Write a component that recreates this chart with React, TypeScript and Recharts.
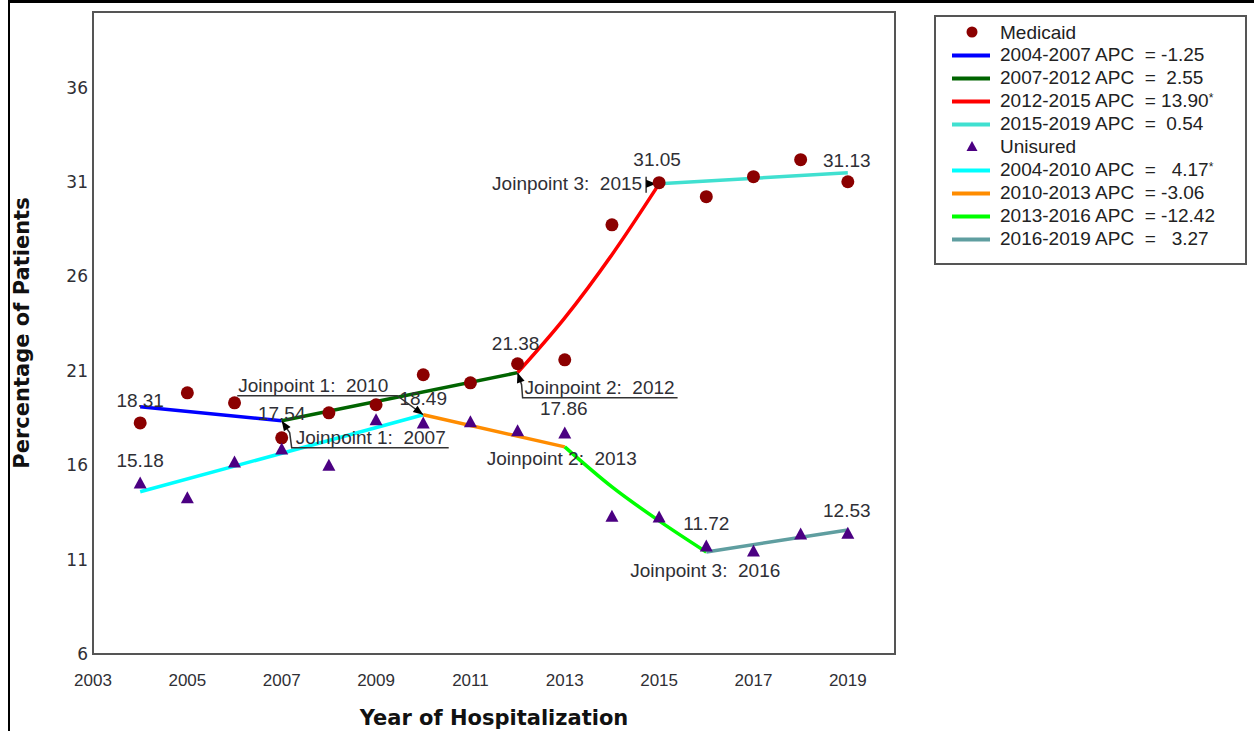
import React from 'react'
import { ComposedChart, Line, Scatter, XAxis, YAxis, ReferenceArea } from 'recharts'

// observed percentages, one per year
const years = [2004, 2005, 2006, 2007, 2008, 2009, 2010, 2011, 2012, 2013, 2014, 2015, 2016, 2017, 2018, 2019]
const medicaidObs = [18.24, 19.83, 19.3, 17.45, 18.77, 19.2, 20.79, 20.36, 21.37, 21.58, 28.73, 30.96, 30.22, 31.28, 32.18, 31.01]
const uninsuredObs = [15.06, 14.27, 16.17, 16.86, 16.0, 18.4, 18.24, 18.3, 17.82, 17.71, 13.3, 13.26, 11.72, 11.46, 12.36, 12.4]

// joinpoint fitted segments
const medicaidSegYears = [[2004, 2007], [2007, 2012], [2012, 2013, 2014, 2015], [2015, 2019]]
const medicaidSegValues = [[19.09, 18.35], [18.35, 20.9], [20.9, 23.8, 27.15, 30.9], [30.9, 31.49]]
const medicaidApc = ['2004-2007 APC  = -1.25', '2007-2012 APC  =  2.55', '2012-2015 APC  = 13.90', '2015-2019 APC  =  0.54']
const medicaidStar = [false, false, true, false]

const uninsuredSegYears = [[2004, 2010], [2010, 2013], [2013, 2014, 2015, 2016], [2016, 2019]]
const uninsuredSegValues = [[14.59, 18.67], [18.67, 16.97], [16.97, 14.85, 13.05, 11.4], [11.4, 12.57]]
const uninsuredApc = ['2004-2010 APC  =   4.17', '2010-2013 APC  = -3.06', '2013-2016 APC  = -12.42', '2016-2019 APC  =   3.27']
const uninsuredStar = [true, false, false, false]

const xTicks = [2003, 2005, 2007, 2009, 2011, 2013, 2015, 2017, 2019]
const yTicks = [6, 11, 16, 21, 26, 31, 36]

// value labels at segment ends
const valueYears = [2004, 2007, 2012, 2015, 2019, 2004, 2010, 2013, 2016, 2019]
const valueAt = [19.09, 18.35, 20.9, 30.9, 31.49, 14.59, 18.67, 16.97, 11.4, 12.57]
const valueText = ['18.31', '17.54', '21.38', '31.05', '31.13', '15.18', '18.49', '17.86', '11.72', '12.53']

// joinpoint notes
const jpYears = [2007, 2010, 2012, 2013, 2015, 2016]
const jpAt = [18.35, 18.67, 20.9, 16.97, 30.9, 11.4]
const jpText = ['Joinpoint 1:  2007', 'Joinpoint 1:  2010', 'Joinpoint 2:  2012', 'Joinpoint 2:  2013', 'Joinpoint 3:  2015', 'Joinpoint 3:  2016']

const medColors = ['#0000ff', '#006400', '#ff0000', '#40e0d0']
const uniColors = ['#00ffff', '#ff8c00', '#00ff00', '#5f9ea0']
const txt = '#2f2f35'
const labelFont = '"Liberation Sans", Arial, sans-serif'

// pixel placement of the labels, relative to their anchor point
const valueOffsets = [[0, -7], [0, -8], [-2, -30], [-2, -25], [-1, -13], [0, -32], [0, -17], [-1, -39], [0, -29], [-1, -20]]
const jpPlacement: { dx: number; dy: number; anchor: 'start' | 'end'; path?: number[][]; bar?: boolean }[] = [
  { dx: 14, dy: 23, anchor: 'start', path: [[0, 0], [8, 12], [10, 27], [167, 27]] },
  { dx: -185, dy: -23, anchor: 'start', path: [[0, 0], [-26, -19], [-186, -19]] },
  { dx: 7, dy: 21, anchor: 'start', path: [[0, 0], [4, 12], [5, 25], [160, 25]] },
  { dx: -78, dy: 18, anchor: 'start' },
  { dx: -17, dy: 6, anchor: 'end', bar: true },
  { dx: -76, dy: 25, anchor: 'start' },
]

const toRows = (ys: number[], vs: number[]) => ys.map((y, i) => ({ year: y, v: vs[i] }))

const arrowHead = (x0: number, y0: number, x1: number, y1: number) => {
  // tip at (x1, y1)
  const dx = x1 - x0, dy = y1 - y0
  const len = Math.sqrt(dx * dx + dy * dy) || 1
  const ux = dx / len, uy = dy / len
  const bx = x1 - ux * 10, by = y1 - uy * 10
  return `${x1},${y1} ${bx - uy * 4},${by + ux * 4} ${bx + uy * 4},${by - ux * 4}`
}

const ValueLabel = (p: any) => {
  const i = p.payload.idx
  const [dx, dy] = valueOffsets[i]
  return (
    <text x={p.cx + dx} y={p.cy + dy + 7} textAnchor="middle" fill={txt} fontSize={19} fontFamily={labelFont}>
      {p.payload.text}
    </text>
  )
}

const JoinLabel = (p: any) => {
  const i = p.payload.idx
  const pl = jpPlacement[i]
  const cx = p.cx, cy = p.cy
  const pts = pl.path ? pl.path.map(([a, b]) => `${cx + a},${cy + b}`).join(' ') : ''
  return (
    <g>
      {pl.path && <polyline points={pts} fill="none" stroke="#333" strokeWidth={1.5} />}
      {pl.path && (
        <polygon points={arrowHead(cx + pl.path[1][0], cy + pl.path[1][1], cx, cy)} fill="#000" />
      )}
      {pl.bar && (
        <g>
          <line x1={cx - 13} y1={cy - 7} x2={cx - 13} y2={cy + 9} stroke="#333" strokeWidth={1.5} />
          <polygon points={arrowHead(cx - 13, cy, cx - 3, cy)} fill="#000" />
        </g>
      )}
      <text x={cx + pl.dx} y={cy + pl.dy} textAnchor={pl.anchor} fill={txt} fontSize={19}
        fontFamily={labelFont} style={{ whiteSpace: 'pre' }}>
        {p.payload.text}
      </text>
    </g>
  )
}

const Dot = (p: any) => <circle cx={p.cx} cy={p.cy} r={6.5} fill="#8b0000" />
const Tri = (p: any) => (
  <polygon points={`${p.cx},${p.cy - 6.5} ${p.cx - 6.5},${p.cy + 5.5} ${p.cx + 6.5},${p.cy + 5.5}`} fill="#4b0082" />
)

function LegendBox() {
  const rows: { kind: 'dot' | 'tri' | 'line'; color: string; label: string; star?: boolean }[] = [
    { kind: 'dot', color: '#8b0000', label: 'Medicaid' },
    ...medicaidApc.map((l, i) => ({ kind: 'line' as const, color: medColors[i], label: l, star: medicaidStar[i] })),
    { kind: 'tri', color: '#4b0082', label: 'Unisured' },
    ...uninsuredApc.map((l, i) => ({ kind: 'line' as const, color: uniColors[i], label: l, star: uninsuredStar[i] })),
  ]
  return (
    <div style={{
      position: 'absolute', left: 934, top: 15, width: 313, height: 250, border: '2px solid #555',
      boxSizing: 'border-box', background: '#fff', paddingTop: 4.5,
    }}>
      {rows.map((r, i) => (
        <div key={i} style={{ position: 'relative', height: 22.9, lineHeight: '22.9px' }}>
          <svg width={60} height={22.9} style={{ position: 'absolute', left: 0, top: 0 }}>
            {r.kind === 'line' && <rect x={16} y={9.5} width={38} height={4} fill={r.color} />}
            {r.kind === 'dot' && <circle cx={36} cy={10} r={5.5} fill={r.color} />}
            {r.kind === 'tri' && <polygon points="36,5 30.5,15 41.5,15" fill={r.color} />}
          </svg>
          <span style={{
            position: 'absolute', left: 64, top: 0, whiteSpace: 'pre', fontFamily: labelFont,
            fontSize: 19, color: '#222',
          }}>
            {r.label}
            {r.star && <span style={{ fontSize: 12, position: 'relative', top: -5 }}>*</span>}
          </span>
        </div>
      ))}
    </div>
  )
}

export default function App() {
  const medSegs = medicaidSegYears.map((ys, i) => toRows(ys, medicaidSegValues[i]))
  const uniSegs = uninsuredSegYears.map((ys, i) => toRows(ys, uninsuredSegValues[i]))
  const medPts = toRows(years, medicaidObs)
  const uniPts = toRows(years, uninsuredObs)
  const valueRows = valueYears.map((y, i) => ({ year: y, v: valueAt[i], text: valueText[i], idx: i }))
  const jpRows = jpYears.map((y, i) => ({ year: y, v: jpAt[i], text: jpText[i], idx: i }))

  return (
    <div style={{ position: 'absolute', left: 0, top: 0, width: 1254, height: 731, background: '#fff', overflow: 'hidden' }}>
      <div style={{
        position: 'absolute', left: 8, top: 0, width: 1246, height: 731,
        borderTop: '3px solid #000', borderLeft: '2px solid #000', boxSizing: 'border-box',
      }} />
      <div style={{ position: 'absolute', left: 0, top: 0 }}>
        <ComposedChart width={1254} height={731} margin={{ top: 12, right: 359, bottom: 0, left: 0 }}>
          <XAxis dataKey="year" type="number" domain={[2003, 2020]} ticks={xTicks} interval={0}
            height={77} axisLine={false} tickLine={false} tickSize={0} tickMargin={0}
            tick={(p: any) => (
              <text x={p.x} y={p.y + 32} textAnchor="middle" fill={txt} fontSize={17} fontFamily={labelFont}>
                {p.payload.value}
              </text>
            )} />
          <YAxis type="number" domain={[6, 40]} ticks={yTicks} interval={0} width={93}
            axisLine={false} tickLine={false} tickSize={0} tickMargin={0}
            tick={(p: any) => (
              <text x={p.x - 5} y={p.y + 6} textAnchor="end" fill={txt} fontSize={17}
                fontFamily='"DejaVu Sans", Verdana, sans-serif'>
                {p.payload.value}
              </text>
            )} />
          <ReferenceArea x1={2003} x2={2020} y1={6} y2={40} fill="none" stroke="#555" strokeWidth={2}
            ifOverflow="visible" />
          <Scatter data={valueRows} dataKey="v" shape={ValueLabel} isAnimationActive={false} legendType="none" />
          <Scatter data={jpRows} dataKey="v" shape={JoinLabel} isAnimationActive={false} legendType="none" />
          <Scatter data={medPts} dataKey="v" shape={Dot} isAnimationActive={false} />
          <Scatter data={uniPts} dataKey="v" shape={Tri} isAnimationActive={false} />
          {medSegs.map((d, i) => (
            <Line key={'m' + i} data={d} dataKey="v" type="monotone" stroke={medColors[i]} strokeWidth={3.5}
              dot={false} activeDot={false} isAnimationActive={false} />
          ))}
          {uniSegs.map((d, i) => (
            <Line key={'u' + i} data={d} dataKey="v" type="monotone" stroke={uniColors[i]} strokeWidth={3.5}
              dot={false} activeDot={false} isAnimationActive={false} />
          ))}
        </ComposedChart>
      </div>
      <div style={{
        position: 'absolute', left: 22, top: 333, transform: 'translate(-50%, -50%) rotate(-90deg)',
        whiteSpace: 'nowrap', fontFamily: '"DejaVu Sans", Verdana, sans-serif', fontWeight: 'bold',
        fontSize: 21, color: '#111',
      }}>Percentage of Patients</div>
      <div style={{
        position: 'absolute', left: 494, top: 718, transform: 'translate(-50%, -50%)',
        whiteSpace: 'nowrap', fontFamily: '"DejaVu Sans", Verdana, sans-serif', fontWeight: 'bold',
        fontSize: 21, color: '#111',
      }}>Year of Hospitalization</div>
      <LegendBox />
    </div>
  )
}
